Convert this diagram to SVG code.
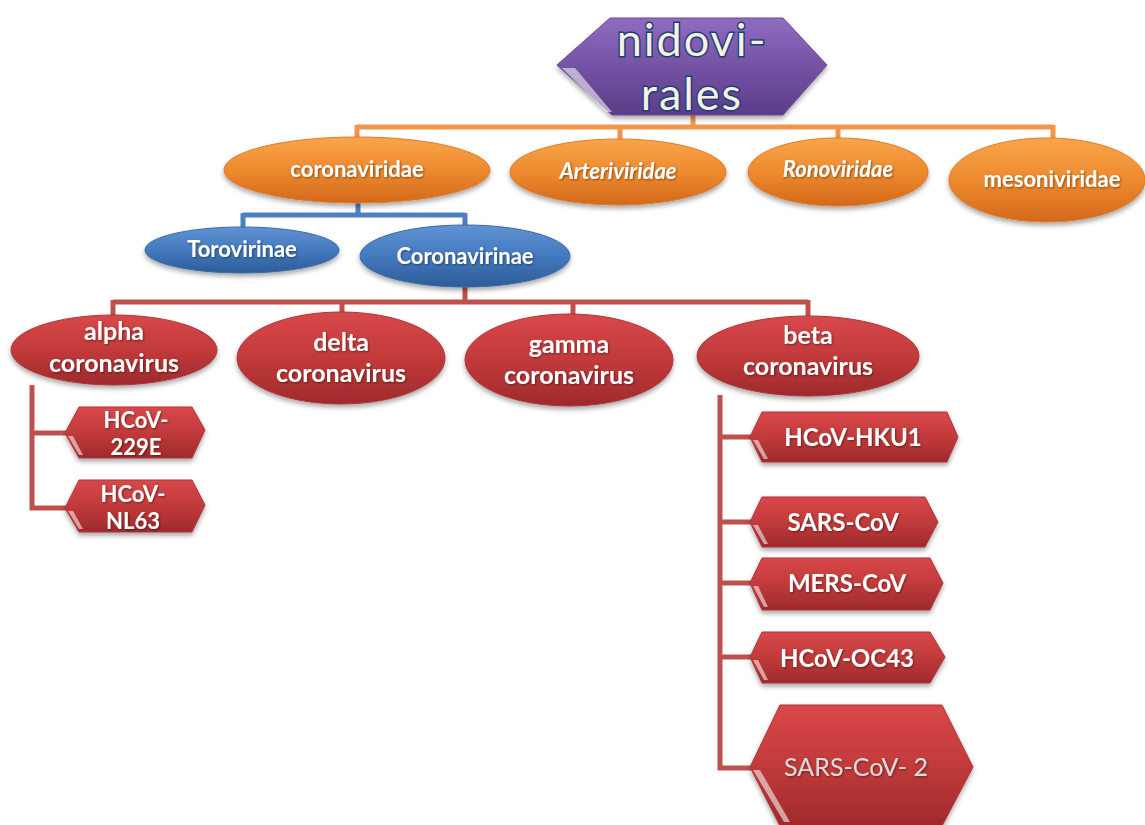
<svg xmlns="http://www.w3.org/2000/svg" width="1145" height="825" viewBox="0 0 1145 825">
<defs>
<linearGradient id="gOr" x1="0" y1="0" x2="0" y2="1"><stop offset="0" stop-color="#f9a54a"/><stop offset="0.5" stop-color="#ee8a2e"/><stop offset="1" stop-color="#d2691c"/></linearGradient>
<linearGradient id="gBl" x1="0" y1="0" x2="0" y2="1"><stop offset="0" stop-color="#5f93d3"/><stop offset="0.5" stop-color="#4479be"/><stop offset="1" stop-color="#2d5c98"/></linearGradient>
<linearGradient id="gRd" x1="0" y1="0" x2="0" y2="1"><stop offset="0" stop-color="#d8484a"/><stop offset="0.5" stop-color="#c23a3a"/><stop offset="1" stop-color="#9e2a2c"/></linearGradient>
<linearGradient id="gPu" x1="0" y1="0" x2="0" y2="1"><stop offset="0" stop-color="#8f6cc0"/><stop offset="0.5" stop-color="#7552a4"/><stop offset="1" stop-color="#5b3d88"/></linearGradient>
<filter id="sh" x="-10%" y="-10%" width="120%" height="130%"><feDropShadow dx="0" dy="3" stdDeviation="2.5" flood-color="#000" flood-opacity="0.35"/></filter>
<filter id="ts" x="-5%" y="-20%" width="110%" height="140%"><feDropShadow dx="1" dy="1" stdDeviation="0.8" flood-color="#000" flood-opacity="0.45"/></filter>
</defs>
<style>
.t{font-family:Lato,"Liberation Sans",sans-serif;font-weight:bold;fill:#fff;text-anchor:middle;filter:url(#ts)}
.big{font-family:Lato,"Liberation Sans",sans-serif;font-size:45px;letter-spacing:2px;text-anchor:middle;fill:#f6f1e2;stroke:#1d3f78;stroke-width:3;paint-order:stroke}
.or{fill:url(#gOr);stroke:#e07a24;stroke-width:1;filter:url(#sh)}
.bl{fill:url(#gBl);stroke:#3a6aa8;stroke-width:1;filter:url(#sh)}
.rd{fill:url(#gRd);stroke:#b03436;stroke-width:1;filter:url(#sh)}
.hl{fill:#fff;opacity:0.55}
.lo{stroke:#f0954a;stroke-width:5;fill:none}
.lb{stroke:#4e7fbf;stroke-width:5;fill:none}
.lr{stroke:#c0504d;stroke-width:5;fill:none}
</style>
<g id="connectors">
<path class="lo" d="M693 114V127M357 127H1053M357 125V140M620 125V140M838 125V140M1053 125V140"/>
<path class="lb" d="M358 203V215M243 215H465M243 213V230M465 213V228"/>
<path class="lr" d="M465 287V302M113 302H808M113 300V317M342 300V314M573 300V315M808 300V318"/>
<path class="lr" d="M32 385V508H67M32 433H67"/>
<path class="lr" d="M720 395V768H752M720 437H752M720 522H752M720 583H752M720 657H752"/>
</g>
<g id="nidovirales">
<polygon points="557,65 610,18 783,18 827,65 783,115 612,115" fill="url(#gPu)" stroke="#6a4a98" filter="url(#sh)"/>
<polygon points="562,68 575,68 612,112 606,112" class="hl"/>
<text class="big" x="692" y="56">nidovi-</text>
<text class="big" x="692" y="110">rales</text>
</g>
<g id="coronaviridae"><ellipse class="or" cx="357" cy="170" rx="133" ry="33"/><text class="t" x="357" y="177" font-size="22">coronaviridae</text></g>
<g id="arteriviridae"><ellipse class="or" cx="618" cy="172" rx="108" ry="33"/><text class="t" x="618" y="179" font-size="22" font-style="italic">Arteriviridae</text></g>
<g id="ronoviridae"><ellipse class="or" cx="838" cy="172" rx="90" ry="34"/><text class="t" x="838" y="177" font-size="22" font-style="italic">Ronoviridae</text></g>
<g id="mesoniviridae"><ellipse class="or" cx="1047" cy="180" rx="98" ry="42"/><text class="t" x="1052" y="187" font-size="22">mesoniviridae</text></g>
<g id="torovirinae"><ellipse class="bl" cx="242" cy="250" rx="97" ry="23"/><text class="t" x="242" y="257" font-size="22">Torovirinae</text></g>
<g id="coronavirinae"><ellipse class="bl" cx="465" cy="256" rx="105" ry="31"/><text class="t" x="465" y="264" font-size="22">Coronavirinae</text></g>
<g id="alpha"><ellipse class="rd" cx="114" cy="350" rx="103" ry="35"/><text class="t" x="114" y="340" font-size="25">alpha</text><text class="t" x="114" y="372" font-size="25">coronavirus</text></g>
<g id="delta"><ellipse class="rd" cx="341" cy="358" rx="104" ry="46"/><text class="t" x="341" y="351" font-size="25">delta</text><text class="t" x="341" y="382" font-size="25">coronavirus</text></g>
<g id="gamma"><ellipse class="rd" cx="569" cy="360" rx="104" ry="46"/><text class="t" x="569" y="353" font-size="25">gamma</text><text class="t" x="569" y="384" font-size="25">coronavirus</text></g>
<g id="beta"><ellipse class="rd" cx="808" cy="356" rx="111" ry="40"/><text class="t" x="808" y="344" font-size="25">beta</text><text class="t" x="808" y="375" font-size="25">coronavirus</text></g>
<g id="hcov229e"><polygon class="rd" points="65,433 79,407 192,407 205,430 192,458 79,458"/><polygon class="hl" points="68,436 73,436 83,455 79,455"/><text class="t" x="136" y="428" font-size="22">HCoV-</text><text class="t" x="136" y="455" font-size="22">229E</text></g>
<g id="hcovnl63"><polygon class="rd" points="65,508 79,480 192,480 205,505 192,532 79,532"/><polygon class="hl" points="68,511 73,511 83,529 79,529"/><text class="t" x="133" y="502" font-size="22">HCoV-</text><text class="t" x="133" y="529" font-size="22">NL63</text></g>
<g id="hku1"><polygon class="rd" points="750,437 762,412 947,412 958,437 947,462 762,462"/><polygon class="hl" points="753,440 758,440 768,459 764,459"/><text class="t" x="853" y="446" font-size="24">HCoV-HKU1</text></g>
<g id="sarscov"><polygon class="rd" points="750,522 762,497 925,497 938,522 925,547 762,547"/><polygon class="hl" points="753,525 758,525 768,544 764,544"/><text class="t" x="843" y="531" font-size="24">SARS-CoV</text></g>
<g id="merscov"><polygon class="rd" points="750,583 762,558 930,558 943,583 930,610 762,610"/><polygon class="hl" points="753,586 758,586 768,607 764,607"/><text class="t" x="847" y="592" font-size="24">MERS-CoV</text></g>
<g id="oc43"><polygon class="rd" points="750,657 762,632 930,632 945,657 930,683 762,683"/><polygon class="hl" points="753,660 758,660 768,680 764,680"/><text class="t" x="847" y="667" font-size="24">HCoV-OC43</text></g>
<g id="sarscov2"><polygon class="rd" points="750,767 780,705 942,705 973,767 942,826 780,826"/><polygon class="hl" points="753,770 760,770 790,822 784,822"/><text x="856" y="776" font-family="Lato,'Liberation Sans',sans-serif" font-size="25" text-anchor="middle" fill="#dcdcdc" filter="url(#ts)">SARS-CoV- 2</text></g>
</svg>
